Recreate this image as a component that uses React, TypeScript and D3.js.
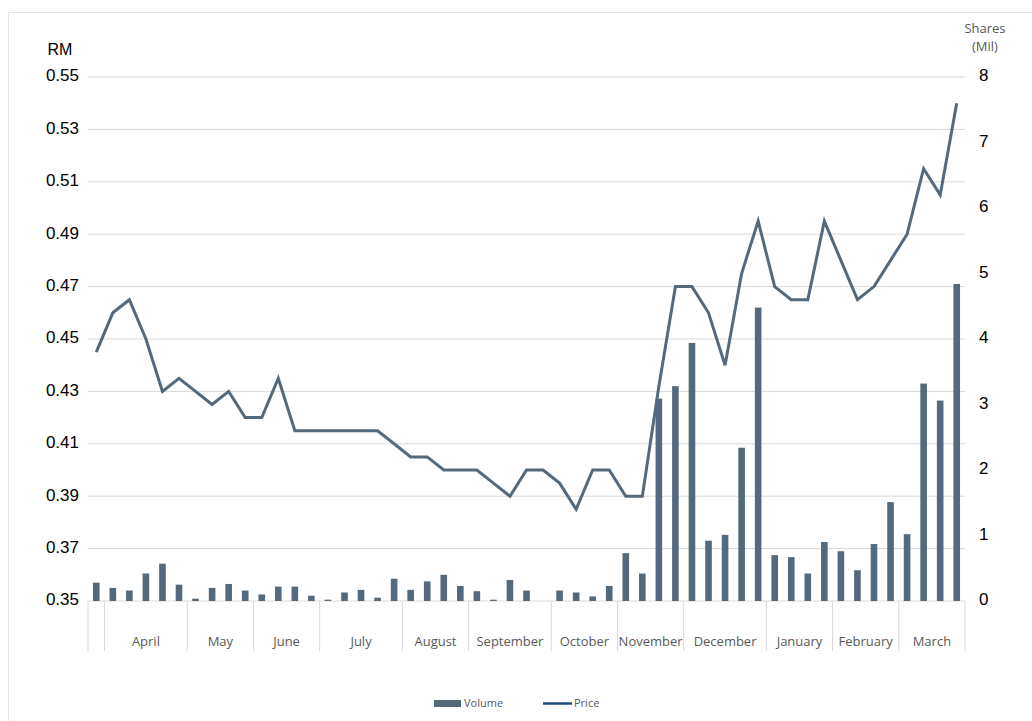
import React from 'react';
import * as d3 from 'd3';

// weekly share price (RM) and weekly volume (million shares)
const price = [
  0.445, 0.46, 0.465, 0.45, 0.43, 0.435, 0.43, 0.425, 0.43, 0.42,
  0.42, 0.435, 0.415, 0.415, 0.415, 0.415, 0.415, 0.415, 0.41, 0.405,
  0.405, 0.4, 0.4, 0.4, 0.395, 0.39, 0.4, 0.4, 0.395, 0.385,
  0.4, 0.4, 0.39, 0.39, 0.432, 0.47, 0.47, 0.46, 0.44, 0.475,
  0.495, 0.47, 0.465, 0.465, 0.495, 0.48, 0.465, 0.47, 0.48, 0.49,
  0.515, 0.505, 0.54,
];
const volume = [
  0.28, 0.2, 0.16, 0.42, 0.57, 0.25, 0.035, 0.2, 0.26, 0.16,
  0.1, 0.22, 0.22, 0.08, 0.02, 0.13, 0.17, 0.05, 0.34, 0.17,
  0.3, 0.4, 0.23, 0.15, 0.02, 0.32, 0.16, 0, 0.16, 0.13,
  0.07, 0.23, 0.73, 0.42, 3.09, 3.28, 3.94, 0.92, 1.01, 2.34,
  4.48, 0.7, 0.67, 0.42, 0.9, 0.76, 0.47, 0.87, 1.51, 1.02,
  3.32, 3.06, 4.84,
];
// months on the x axis and how many weeks fall in each ("" = leading week, unlabeled)
const months = ['', 'April', 'May', 'June', 'July', 'August', 'September', 'October', 'November', 'December', 'January', 'February', 'March'];
const weeksPerMonth = [1, 5, 4, 4, 5, 4, 5, 4, 4, 5, 4, 4, 4];
const priceTicks = [0.35, 0.37, 0.39, 0.41, 0.43, 0.45, 0.47, 0.49, 0.51, 0.53, 0.55];
const volumeTicks = [0, 1, 2, 3, 4, 5, 6, 7, 8];

const W = 1032;
const H = 721;
const left = 88;
const right = 965;
const top = 77;
const bottom = 601;
const barColor = '#546a7c';
const gridColor = '#d9d9d9';
const greyText = '#595959';
const font = 'Liberation Sans, Arial, sans-serif';
const labelFont = 'Open Sans, Calibri, sans-serif';

export default function App() {
  const idx = price.map((_, i) => i);
  const x = d3.scaleBand<number>().domain(idx).range([left, right]).paddingInner(0.6).paddingOuter(0.3);
  const yP = d3.scaleLinear().domain([0.35, 0.55]).range([bottom, top]);
  const yV = d3.scaleLinear().domain([0, 8]).range([bottom, top]);
  const step = x.step();
  const cx = (i: number) => (x(i) as number) + x.bandwidth() / 2;

  const line = d3.line<number>().x((_, i) => cx(i)).y((d) => yP(d));

  // month boundaries in band units
  const bounds: number[] = [0];
  weeksPerMonth.forEach((n) => bounds.push(bounds[bounds.length - 1] + n));
  const bx = (b: number) => left + b * step;

  return (
    <div style={{ position: 'absolute', left: 0, top: 0 }}>
      <svg width={W} height={H} style={{ display: 'block', background: '#fff' }}>
        <rect x={8.5} y={12.5} width={1100} height={800} fill="none" stroke="#e3e3e3" />

        {/* gridlines */}
        {priceTicks.map((t) => (
          <line key={t} x1={left} x2={right} y1={yP(t)} y2={yP(t)} stroke={gridColor} strokeWidth={1} />
        ))}

        {/* month separators */}
        {bounds.map((b, i) => (
          <line key={'s' + i} x1={bx(b)} x2={bx(b)} y1={bottom} y2={651} stroke={gridColor} strokeWidth={1} />
        ))}
        {months.map((m, i) => (
          <text key={'m' + i} x={(bx(bounds[i]) + bx(bounds[i + 1])) / 2} y={643} fill={greyText}
            fontFamily={labelFont} fontSize={13} textAnchor="middle" dominantBaseline="middle">{m}</text>
        ))}

        {/* volume bars */}
        {volume.map((v, i) => (
          <rect key={'b' + i} x={x(i)} y={yV(v)} width={x.bandwidth()} height={bottom - yV(v)} fill={barColor} />
        ))}

        {/* price line */}
        <path d={line(price) || ''} fill="none" stroke={barColor} strokeWidth={3} strokeLinejoin="miter" />

        {/* left axis */}
        {priceTicks.map((t) => (
          <text key={'l' + t} x={79} y={yP(t)} textAnchor="end" dominantBaseline="middle"
            fontFamily={font} fontSize={17} fill="#000">{t.toFixed(2)}</text>
        ))}
        <text x={60} y={51} textAnchor="middle" dominantBaseline="middle" fontFamily={font} fontSize={16} fill="#000">RM</text>

        {/* right axis */}
        {volumeTicks.map((t) => (
          <text key={'r' + t} x={979} y={yV(t)} textAnchor="start" dominantBaseline="middle"
            fontFamily={font} fontSize={17} fill="#000">{t}</text>
        ))}
        <text x={985} y={30} textAnchor="middle" dominantBaseline="middle" fontFamily={labelFont} fontSize={13} fill={greyText}>Shares</text>
        <text x={985} y={48} textAnchor="middle" dominantBaseline="middle" fontFamily={labelFont} fontSize={13} fill={greyText}>(Mil)</text>

        {/* legend */}
        <rect x={434} y={700} width={27} height={7} fill={barColor} />
        <text x={464} y={704} dominantBaseline="middle" fontFamily={labelFont} fontSize={11} fill={greyText}>Volume</text>
        <line x1={543} x2={572} y1={703.5} y2={703.5} stroke="#1f4e79" strokeWidth={2.5} />
        <text x={574} y={704} dominantBaseline="middle" fontFamily={labelFont} fontSize={11} fill={greyText}>Price</text>
      </svg>
    </div>
  );
}
